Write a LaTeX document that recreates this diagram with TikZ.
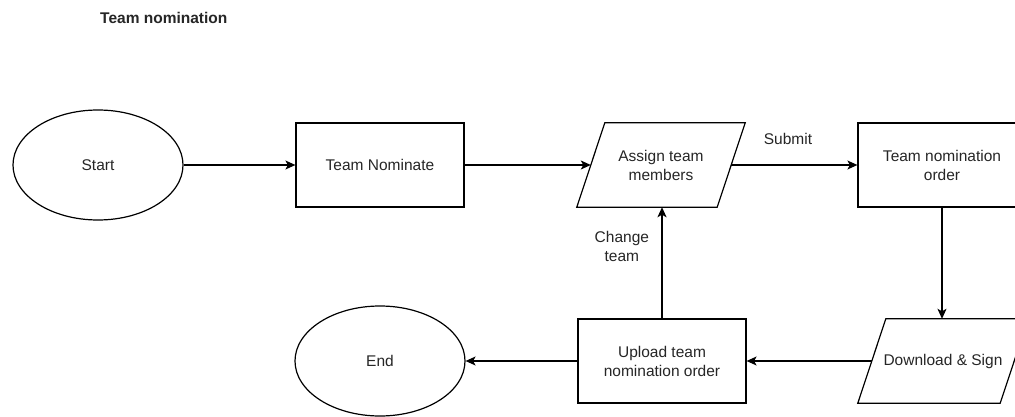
\documentclass[tikz,border=0pt]{standalone}
\usepackage{fontspec}
\setmainfont{Liberation Sans}
\usetikzlibrary{arrows.meta,shapes.geometric}
\begin{document}
\begin{tikzpicture}[x=1pt,y=-1pt,
  every node/.style={font=\fontsize{15.5}{19}\selectfont, text=black!85},
  term/.style={draw=black, line width=1.2pt, ellipse, minimum width=170pt, minimum height=110pt, inner sep=0pt},
  procbox/.style={draw=black, line width=1.2pt, rectangle, minimum width=168pt, minimum height=84pt, inner sep=0pt, align=center},
  iobox/.style={rectangle, minimum width=140pt, minimum height=84pt, inner sep=0pt, align=center},
  iolines/.style={draw=black, line width=1.2pt},
  flow/.style={draw=black, line width=1.2pt, -{Stealth[length=10pt,width=9pt,inset=2.5pt]}},
  thickflow/.style={flow, line width=2pt},
  lbl/.style={inner sep=0pt, align=center}
]
\useasboundingbox (0,0) rectangle (1015,417);
\fill[white] (0,0) rectangle (1015,417);

\node[anchor=west, inner sep=0pt, font=\fontsize{15.5}{19}\selectfont\bfseries] (title) at (100,18) {Team nomination};

\node[term] (start) at (98,165) {Start};
\node[procbox] (tn) at (380,165) {Team Nominate};
\node[iobox] (assign) at (661,165) {Assign team\\members};
\node[procbox] (tno) at (942,165) {Team nomination\\order};
\node[iobox, minimum width=142pt] (dl) at (943,361) {Download \& Sign};
\node[procbox] (up) at (662,361) {Upload team\\nomination order};
\node[term] (end) at (380,361) {End};

% parallelogram outlines
\draw[iolines] ([xshift=-14pt]assign.south west) -- ([xshift=14pt]assign.north west)
  -- ([xshift=14pt]assign.north east) -- ([xshift=-14pt]assign.south east) -- cycle;
\draw[iolines] ([xshift=-14pt]dl.south west) -- ([xshift=14pt]dl.north west)
  -- ([xshift=14pt]dl.north east) -- ([xshift=-14pt]dl.south east) -- cycle;

\draw[flow] (start.east) -- (tn.west);
\draw[flow] (tn.east) -- (assign.west);
\draw[flow] (assign.east) -- node[lbl, above=20pt, pos=0.45] (submit) {Submit} (tno.west);
\draw[flow] (tno.south) -- (tno.south |- dl.north);
\draw[flow] (dl.west) -- (up.east);
\draw[thickflow] (up.north) -- node[lbl, pos=0.65, left=12pt] (chg) {Change\\team} (up.north |- assign.south);
\draw[flow] (up.west) -- (end.east);
\end{tikzpicture}
\end{document}
